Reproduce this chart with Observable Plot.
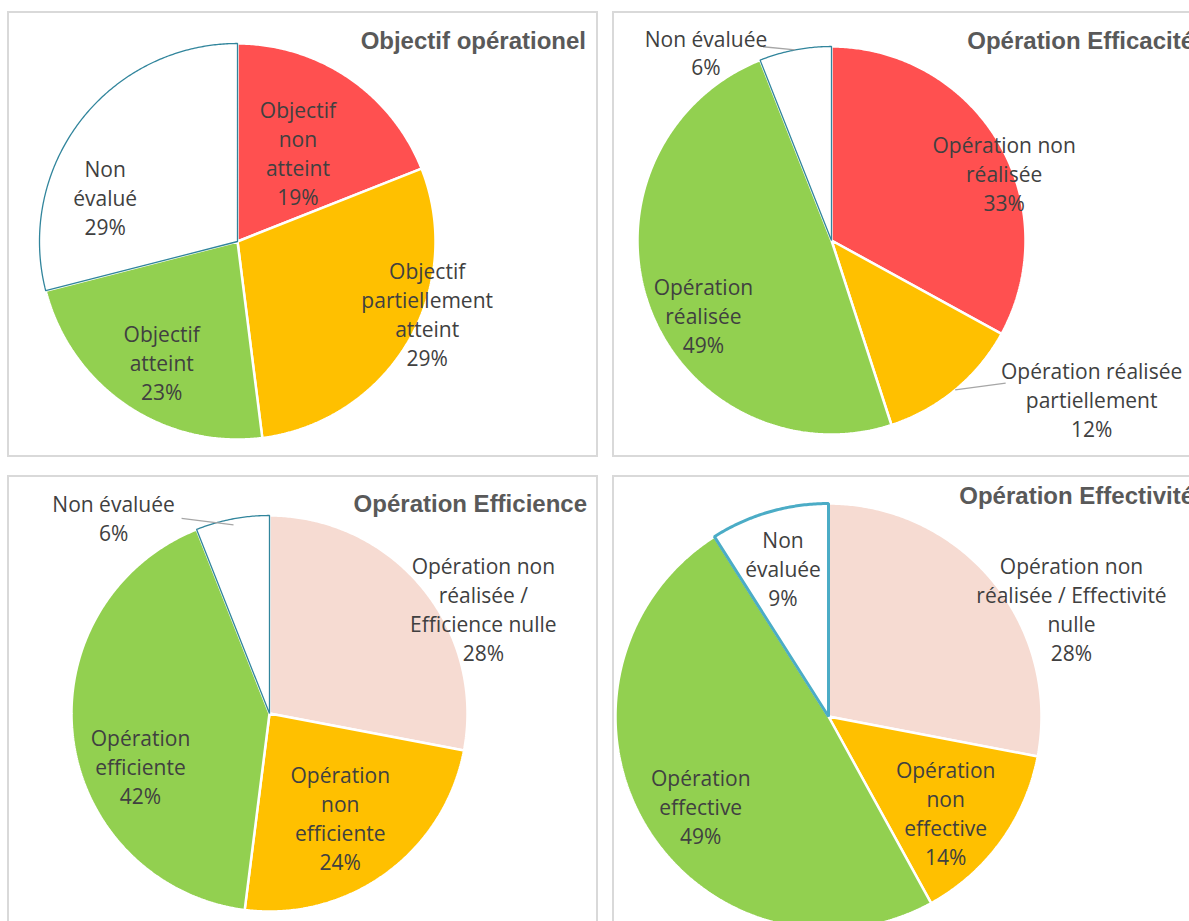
<!DOCTYPE html>
<html><head><meta charset="utf-8">
<script src="https://cdn.jsdelivr.net/npm/d3@7"></script>
<script src="https://cdn.jsdelivr.net/npm/@observablehq/plot@0.6"></script>
<style>
body{margin:0;background:#fff;}
#page{position:relative;width:1189px;height:921px;overflow:hidden;background:#fff;}
.box{position:absolute;box-sizing:border-box;border:2px solid #d9d9d9;}
.plot{position:absolute;}
.title{position:absolute;font-family:"Liberation Sans",Arial,sans-serif;font-weight:bold;font-size:24px;color:#595959;white-space:nowrap;line-height:24px;}
</style></head><body><div id="page"></div>
<script>
// ---------- DATA ----------
const titles = ["Objectif opérationel", "Opération Efficacité", "Opération Efficience", "Opération Effectivité"];

const chart1Categories = ["Objectif\nnon\natteint", "Objectif\npartiellement\natteint", "Objectif\natteint", "Non\névalué"];
const chart1Values = [19, 29, 23, 29];

const chart2Categories = ["Opération non\nréalisée", "Opération réalisée\npartiellement", "Opération\nréalisée", "Non évaluée"];
const chart2Values = [33, 12, 49, 6];

const chart3Categories = ["Opération non\nréalisée /\nEfficience nulle", "Opération\nnon\nefficiente", "Opération\nefficiente", "Non évaluée"];
const chart3Values = [28, 24, 42, 6];

const chart4Categories = ["Opération non\nréalisée / Effectivité\nnulle", "Opération\nnon\neffective", "Opération\neffective", "Non\névaluée"];
const chart4Values = [28, 14, 49, 9];

// ---------- STYLES ----------
const colorsA = ["#FF5050", "#FFC000", "#92D050", "#FFFFFF"];
const colorsB = ["#F6DBD2", "#FFC000", "#92D050", "#FFFFFF"];

// ---------- LAYOUT ----------
const panels = [
  {cats: chart1Categories, vals: chart1Values, colors: colorsA, title: titles[0],
   left: 7, top: 11, width: 591, height: 446, cx: 230, cy: 230, r: 198,
   titleRight: 586, titleCy: 41, notEvalStroke: "#31859C", notEvalWidth: 1.3,
   labels: [{k: 0.543, dx: 0, dy: 0}, {k: 1.025, dx: 15, dy: -32}, {k: 0.717, dx: 4, dy: 3}, {k: 0.705, dx: -22, dy: 41}],
   leaders: []},
  {cats: chart2Categories, vals: chart2Values, colors: colorsA, title: titles[1],
   left: 612, top: 11, width: 594, height: 446, cx: 219, cy: 229, r: 194,
   titleRight: 1194, titleCy: 41, notEvalStroke: "#31859C", notEvalWidth: 1.3,
   labels: [{k: 0.956, dx: 13, dy: 27}, {k: 1.57, dx: 66, dy: -76}, {k: 0.762, dx: 11, dy: 24}, {k: 1.169, dx: -83, dy: 34}],
   leaders: [{i: 1, sx: -86, sy: -16, k: 1.0}, {i: 3, sx: 57, sy: -5, k: 1.0}]},
  {cats: chart3Categories, vals: chart3Values, colors: colorsB, title: titles[2],
   left: 7, top: 475, width: 591, height: 470, cx: 262, cy: 238, r: 198,
   titleRight: 587, titleCy: 504, notEvalStroke: "#31859C", notEvalWidth: 1.3,
   labels: [{k: 1.205, dx: 30, dy: 47}, {k: 0.634, dx: -3, dy: 2}, {k: 0.7025, dx: 9, dy: 35}, {k: 1.265, dx: -109, dy: 50}],
   leaders: [{i: 3, sx: 68, sy: 1, k: 0.97}]},
  {cats: chart4Categories, vals: chart4Values, colors: colorsB, title: titles[3],
   left: 612, top: 475, width: 594, height: 470, cx: 216, cy: 241, r: 213,
   titleRight: 1194, titleCy: 496, notEvalStroke: "#4BACC6", notEvalWidth: 3,
   labels: [{k: 1.249, dx: 38, dy: 61}, {k: 0.709, dx: -5, dy: 7}, {k: 0.735, dx: 7, dy: 10}, {k: 0.732, dx: -2, dy: 1}],
   leaders: []}
];

function sliceGeometry(values) {
  const total = d3.sum(values);
  let acc = 0;
  const pts = [], mids = [];
  values.forEach((v, i) => {
    const a0 = acc / total * 2 * Math.PI; acc += v;
    const a1 = acc / total * 2 * Math.PI;
    mids.push((a0 + a1) / 2);
    const n = Math.max(2, Math.ceil((a1 - a0) / (Math.PI / 360)));
    pts.push({i, x: 0, y: 0});
    for (let j = 0; j <= n; j++) {
      const a = a0 + (a1 - a0) * j / n;
      pts.push({i, x: Math.sin(a), y: Math.cos(a)});
    }
  });
  return {pts, mids};
}

const page = document.getElementById("page");

panels.forEach(p => {
  const box = document.createElement("div");
  box.className = "box";
  Object.assign(box.style, {left: p.left + "px", top: p.top + "px", width: p.width + "px", height: p.height + "px"});
  page.appendChild(box);

  const {pts, mids} = sliceGeometry(p.vals);
  const marks = [];
  p.vals.forEach((v, i) => {
    const last = i === p.vals.length - 1;
    marks.push(Plot.line(pts.filter(d => d.i === i), {
      x: "x", y: "y", curve: "linear-closed",
      fill: p.colors[i],
      stroke: last ? p.notEvalStroke : "#FFFFFF",
      strokeWidth: last ? p.notEvalWidth : 2.5,
      strokeLinejoin: "miter", strokeLinecap: "butt"
    }));
  });
  const labelData = p.vals.map((v, i) => ({
    x: p.labels[i].k * Math.sin(mids[i]),
    y: p.labels[i].k * Math.cos(mids[i]),
    text: p.cats[i] + "\n" + v + "%",
    dx: p.labels[i].dx, dy: p.labels[i].dy
  }));
  const leaderData = p.leaders.map(l => {
    const lab = labelData[l.i];
    return {
      x1: lab.x + (lab.dx + l.sx) / p.r,
      y1: lab.y - (lab.dy + l.sy) / p.r,
      x2: l.k * Math.sin(mids[l.i]),
      y2: l.k * Math.cos(mids[l.i])
    };
  });
  marks.push(Plot.link(leaderData, {x1: "x1", y1: "y1", x2: "x2", y2: "y2", stroke: "#A6A6A6", strokeWidth: 1.3}));
  labelData.forEach(d => {
    marks.push(Plot.text([d], {
      x: "x", y: "y", text: "text", dx: d.dx, dy: d.dy,
      fontSize: 21, lineHeight: 1.38, fontFamily: "Open Sans", fill: "#404040"
    }));
  });

  const chart = Plot.plot({
    width: p.width, height: p.height, margin: 0,
    x: {domain: [-1, 1], range: [p.cx - p.r, p.cx + p.r], axis: null},
    y: {domain: [-1, 1], range: [p.cy + p.r, p.cy - p.r], axis: null},
    style: {background: "transparent", overflow: "visible"},
    marks
  });
  chart.classList.add("plot");
  chart.style.left = p.left + "px";
  chart.style.top = p.top + "px";
  page.appendChild(chart);

  const t = document.createElement("div");
  t.className = "title";
  t.textContent = p.title;
  page.appendChild(t);
  const w = t.getBoundingClientRect().width;
  t.style.left = (p.titleRight - w) + "px";
  t.style.top = (p.titleCy - 12) + "px";
});
</script>
</body></html>
